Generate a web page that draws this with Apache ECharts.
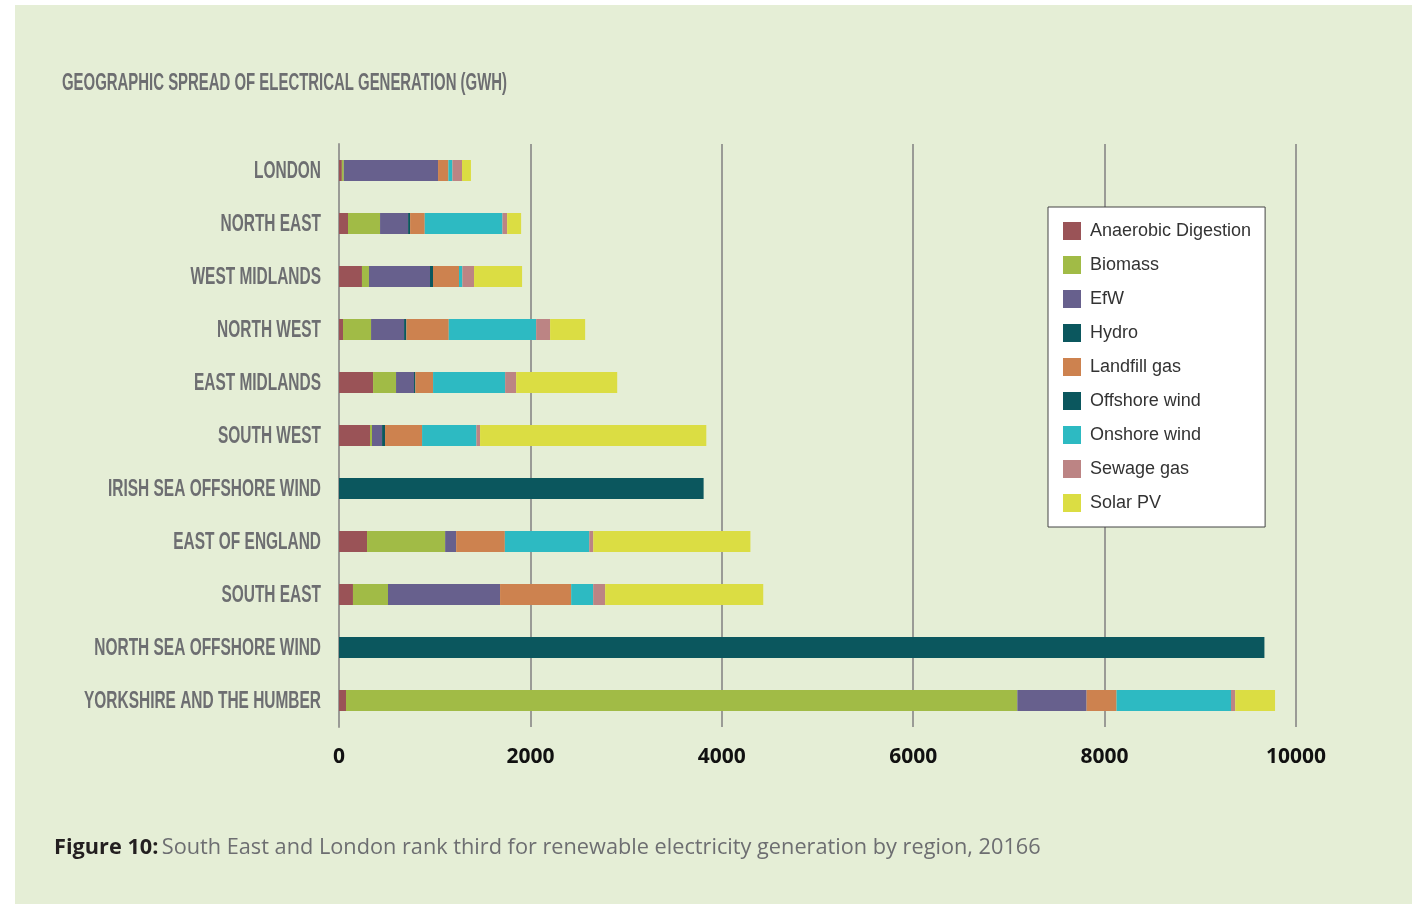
<!DOCTYPE html>
<html><head><meta charset="utf-8">
<script src="https://cdn.jsdelivr.net/npm/echarts@6/dist/echarts.min.js"></script>
<style>html,body{margin:0;padding:0;background:#fff;}#c{width:1412px;height:904px;}</style>
</head><body><div id="c"></div>
<script>
const regions = ['LONDON','NORTH EAST','WEST MIDLANDS','NORTH WEST','EAST MIDLANDS','SOUTH WEST','IRISH SEA OFFSHORE WIND','EAST OF ENGLAND','SOUTH EAST','NORTH SEA OFFSHORE WIND','YORKSHIRE AND THE HUMBER'];
const seriesNames = ['Anaerobic Digestion','Biomass','EfW','Hydro','Landfill gas','Offshore wind','Onshore wind','Sewage gas','Solar PV'];
const anaerobic = [30, 94, 240, 42, 356, 324, 0, 293, 146, 0, 73];
const biomass   = [20, 335, 73, 293, 240, 21, 0, 816, 366, 0, 7015];
const efw       = [985, 293, 638, 345, 188, 105, 0, 115, 1171, 0, 724];
const hydro     = [0, 21, 31, 24, 14, 31, 0, 0, 0, 0, 0];
const landfill  = [108, 153, 272, 443, 185, 387, 0, 509, 743, 0, 313];
const offshore  = [0, 0, 0, 0, 0, 0, 3810, 0, 0, 9670, 0];
const onshore   = [42, 812, 35, 913, 753, 568, 0, 882, 230, 0, 1196];
const sewage    = [100, 49, 122, 146, 115, 38, 0, 42, 125, 0, 44];
const solar     = [94, 146, 502, 366, 1056, 2364, 0, 1642, 1652, 0, 416];
const xTicks = [0, 2000, 4000, 6000, 8000, 10000];
const titleText = 'GEOGRAPHIC SPREAD OF ELECTRICAL GENERATION (GWH)';
const captionBold = 'Figure 10:';
const captionText = 'South East and London rank third for renewable electricity generation by region, 20166';

const colors = ['#9a5357','#a1bb46','#67608d','#0b575e','#cd824f','#0b575e','#2dbac2','#bc8484','#dbdd43'];
const allData = [anaerobic, biomass, efw, hydro, landfill, offshore, onshore, sewage, solar];

const mctx = document.createElement('canvas').getContext('2d');
function measure(font, text){ mctx.font = font; return mctx.measureText(text).width; }

const labelFont = "bold 23px 'Liberation Sans'";
const labelScale = 237 / measure(labelFont, 'YORKSHIRE AND THE HUMBER');
const titleFont = "bold 24px 'Liberation Sans'";
const titleScale = 445 / measure(titleFont, titleText);
const capW = measure("bold 22px 'Open Sans'", captionBold + ' ') + measure("22px 'Open Sans'", captionText);
const capScale = 989 / capW;

const chart = echarts.init(document.getElementById('c'), null, {renderer:'canvas'});
chart.setOption({
  animation: false,
  color: colors,
  legend: {
    orient:'vertical', left:1048, top:207,
    backgroundColor:'#ffffff', borderColor:'#444', borderWidth:1,
    padding:[15,14,15,15],
    itemWidth:18, itemHeight:18, itemGap:16, icon:'rect',
    textStyle:{fontSize:18, color:'#333', fontFamily:"'Liberation Sans'", padding:[0,0,0,4]},
    data: seriesNames
  },
  grid: {left:339, right:116, top:144, bottom:177, containLabel:false},
  xAxis: {
    type:'value', min:0, max:10000, interval:2000,
    axisLine:{show:false}, axisTick:{show:false},
    splitLine:{show:true, lineStyle:{color:'#9a9b96', width:2}},
    axisLabel:{fontSize:21, fontWeight:'bold', color:'#111', margin:20, fontFamily:"'Open Sans'",
      formatter: v => xTicks.includes(v) ? String(v) : ''}
  },
  yAxis: {
    type:'category', inverse:true, data:regions,
    axisLine:{show:true, lineStyle:{color:'#9a9b96', width:2}}, axisTick:{show:false},
    axisLabel:{show:false}
  },
  series: seriesNames.map((n,i)=>({
    name:n, type:'bar', stack:'t', barWidth:21, data: allData[i],
    itemStyle:{color:colors[i]}
  }))
});

const axisX = chart.convertToPixel({xAxisIndex:0}, 0);
const graphics = [
  {type:'rect', z:-10, silent:true, shape:{x:15,y:5,width:1397,height:899}, style:{fill:'#e5eed6'}},
  {type:'text', x:62, y:83, scaleX:titleScale, style:{text:titleText, fill:'#6d6e71', verticalAlign:'middle', font:titleFont}},
  {type:'text', x:54, y:848, scaleX:capScale, style:{
    text:`{b|${captionBold}} {n|${captionText}}`, verticalAlign:'middle',
    rich:{
      b:{fontWeight:'bold', fontSize:22, fill:'#231f20', fontFamily:"'Open Sans'"},
      n:{fontSize:22, fill:'#6d6e71', fontFamily:"'Open Sans'"}
    }}}
];
regions.forEach((r)=>{
  const y = chart.convertToPixel({yAxisIndex:0}, r);
  graphics.push({type:'text', x: axisX - 18, y: y + 1, scaleX: labelScale,
    style:{text:r, font:labelFont, fill:'#6d6e71', align:'right', verticalAlign:'middle'}});
});
chart.setOption({graphic: graphics});
</script></body></html>
